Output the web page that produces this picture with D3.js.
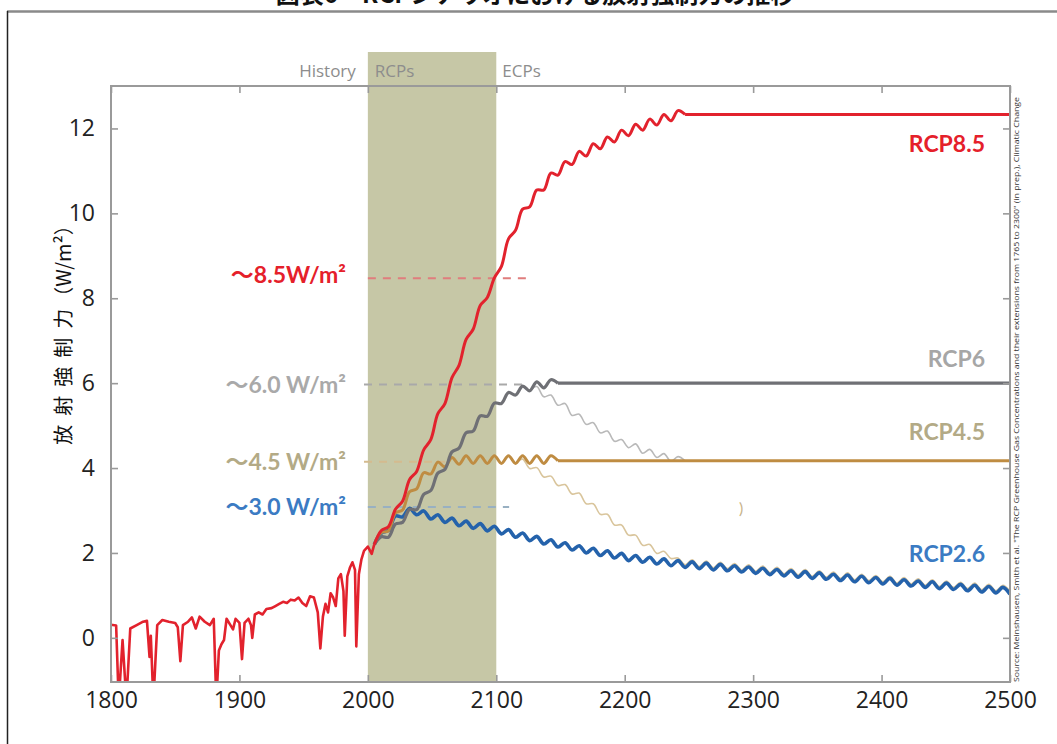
<!DOCTYPE html>
<html>
<head>
<meta charset="utf-8">
<script src="https://cdn.jsdelivr.net/npm/d3@7"></script>
<style>
  body { margin: 0; background: #fff; }
  svg { display: block; }
</style>
</head>
<body>
<div id="chart"></div>
<script>
// ---- data ----
const histYears = [1800, 1804, 1806, 1809, 1812, 1815, 1820, 1825, 1828, 1830, 1831, 1833, 1836, 1840, 1845, 1850,
  1852, 1854, 1856, 1860, 1863, 1866, 1869, 1873, 1877, 1880, 1882, 1884, 1886, 1888, 1890, 1893, 1895, 1897,
  1900, 1902, 1904, 1907, 1909, 1910, 1912, 1915, 1918, 1921, 1925, 1928, 1931, 1934, 1937, 1940, 1943, 1946,
  1949, 1952, 1955, 1958, 1961, 1963, 1965, 1967, 1969, 1971, 1973, 1975, 1977, 1979, 1981, 1982, 1984, 1986,
  1988, 1990, 1991, 1993, 1995, 1997, 2000, 2003, 2005];
const histValues = [0.31, 0.29, -1.5, -0.05, -1.5, 0.22, 0.3, 0.38, 0.4, -0.45, 0.05, -1.5, 0.3, 0.42, 0.38, 0.35,
  0.25, -0.55, 0.3, 0.38, 0.48, 0.22, 0.5, 0.38, 0.3, 0.45, -1.5, -0.3, -0.15, -0.05, 0.45, 0.3, 0.2, 0.45,
  0.35, -0.5, 0.35, 0.45, 0.3, 0.0, 0.55, 0.6, 0.55, 0.68, 0.7, 0.75, 0.8, 0.85, 0.82, 0.9, 0.88, 0.95,
  0.82, 0.75, 0.98, 0.95, 0.6, -0.25, 0.5, 0.8, 0.6, 1.05, 0.95, 0.75, 1.4, 1.5, 1.1, 0.05, 1.45, 1.65,
  1.78, 1.6, -0.2, 1.5, 1.85, 2.05, 2.15, 1.98, 2.2];

// scenario series are sampled every half solar cycle (peak / trough)
const halfCycle = 5.5;
const rcpStart = 2005;
const rcp85Values = [2.20, 2.53, 2.62, 3.03, 3.22, 3.73, 3.92, 4.43, 4.67, 5.28, 5.52, 6.13, 6.42, 7.03, 7.27,
  7.83, 8.02, 8.48, 8.75, 9.40, 9.60, 10.10, 10.15, 10.55, 10.55, 10.95, 10.90, 11.22, 11.15, 11.46, 11.35,
  11.64, 11.52, 11.80, 11.68, 11.96, 11.83, 12.10, 11.96, 12.22, 12.08, 12.33, 12.18, 12.42, 12.33];
const rcp6Values = [2.20, 2.38, 2.37, 2.68, 2.72, 3.03, 3.02, 3.38, 3.47, 3.88, 3.97, 4.38, 4.47, 4.83, 4.87,
  5.23, 5.22, 5.53, 5.52, 5.78, 5.72, 5.93, 5.82, 6.03, 5.89, 6.08, 6.00];
const rcp45Values = [2.20, 2.48, 2.52, 2.94, 3.01, 3.44, 3.51, 3.89, 3.86, 4.14, 4.03, 4.25, 4.09, 4.29, 4.11,
  4.29, 4.11, 4.29, 4.11, 4.29, 4.11, 4.29, 4.11, 4.29, 4.11, 4.29, 4.17];
const rcp26Values = [2.20, 2.47, 2.53, 2.87, 2.85, 3.05, 2.90, 2.99, 2.80, 2.90, 2.72, 2.82, 2.64, 2.75, 2.58,
  2.69, 2.52, 2.63, 2.45, 2.55, 2.37, 2.47, 2.29, 2.39, 2.21, 2.31, 2.14, 2.24, 2.07, 2.17, 2.00, 2.11, 1.94,
  2.05, 1.88, 1.99, 1.82, 1.94, 1.78, 1.90, 1.74, 1.86, 1.70, 1.82, 1.66, 1.79, 1.63, 1.76, 1.60, 1.73, 1.58,
  1.70, 1.55, 1.67, 1.52, 1.64, 1.49, 1.61, 1.46, 1.58, 1.43, 1.56, 1.40, 1.53, 1.38, 1.50, 1.35, 1.48, 1.32,
  1.45, 1.30, 1.42, 1.27, 1.40, 1.24, 1.37, 1.22, 1.34, 1.19, 1.32, 1.16, 1.29, 1.14, 1.26, 1.11, 1.24, 1.08,
  1.21, 1.06, 1.19, 1.03];
// plateau (ECP stabilisation) levels, held to 2500
const plateauEnd = 2500;
const rcp85Plateau = 12.33;
const rcp6Plateau = 6.0;
const rcp45Plateau = 4.17;

// thin ECP branches that decline after 2100
const ecp6Start = 2126;
const ecp6Values = [5.82, 5.92, 5.68, 5.72, 5.48, 5.52, 5.24, 5.27, 5.03, 5.07, 4.83, 4.87, 4.63, 4.67, 4.48,
  4.57, 4.35, 4.44, 4.25, 4.34, 4.16, 4.27, 4.17];
const ecp45Start = 2115;
const ecp45Values = [4.11, 4.21, 3.99, 4.01, 3.79, 3.81, 3.59, 3.61, 3.39, 3.41, 3.16, 3.16, 2.91, 2.91, 2.66,
  2.66, 2.42, 2.42, 2.18, 2.20, 1.99, 2.04, 1.87, 1.88, 1.72, 1.84, 1.68, 1.81, 1.65, 1.78, 1.63, 1.75, 1.60,
  1.72, 1.57, 1.69, 1.54, 1.66, 1.51, 1.63, 1.48, 1.61, 1.45, 1.58, 1.43, 1.55, 1.40, 1.53, 1.37, 1.50, 1.35,
  1.47, 1.32, 1.45, 1.29, 1.42, 1.27, 1.39, 1.24, 1.37, 1.21, 1.34, 1.19, 1.31, 1.16, 1.29, 1.13, 1.26, 1.11,
  1.24, 1.10];

// reference levels (dashed) and their year span
const refLabels = ['～8.5W/m²', '～6.0 W/m²', '～4.5 W/m²', '～3.0 W/m²'];
const refLevels = [8.47, 5.97, 4.15, 3.08];
const refFrom = [2000, 1997, 1997, 2000];
const refTo = [2125, 2120, 2060, 2110];

const scenarioNames = ['RCP8.5', 'RCP6', 'RCP4.5', 'RCP2.6'];
const xTicks = [1800, 1900, 2000, 2100, 2200, 2300, 2400, 2500];
const yTicks = [0, 2, 4, 6, 8, 10, 12];
const periods = ['History', 'RCPs', 'ECPs'];

// ---- drawing ----
const width = 1057, height = 744;
const svg = d3.select('#chart').append('svg')
  .attr('width', width)
  .attr('height', height);

const x = d3.scaleLinear().domain([1800, 2500]).range([111, 1010]);
const y = d3.scaleLinear().domain([-1.04, 13]).range([682, 86]);

const sansFont = "'Open Sans', 'Noto Sans', sans-serif";
const labelFont = "Lato, 'Noto Sans CJK JP', sans-serif";

// outer frame of the page image
svg.append('line')
  .attr('x1', 7).attr('x2', width).attr('y1', 11.5).attr('y2', 11.5)
  .attr('stroke', '#8a8a8a').attr('stroke-width', 2.5);
svg.append('line')
  .attr('x1', 7.5).attr('x2', 7.5).attr('y1', 11).attr('y2', height)
  .attr('stroke', '#222').attr('stroke-width', 1.5);

// title, cut off by the top edge as in the source page
svg.append('text')
  .attr('x', 535).attr('y', 3)
  .attr('text-anchor', 'middle')
  .attr('font-family', "'Noto Sans CJK JP', sans-serif")
  .attr('font-weight', 'bold')
  .attr('font-size', 24)
  .attr('fill', '#111')
  .text('図表6　RCPシナリオにおける放射強制力の推移');

// RCP period band
svg.append('rect')
  .attr('x', x(2000)).attr('width', x(2100) - x(2000))
  .attr('y', 52).attr('height', y.range()[0] - 52)
  .attr('fill', '#c6c7a6');

// period labels
const periodX = [x(2000) - 12, x(2000) + 7, x(2100) + 6];
svg.append('g').selectAll('text')
  .data(periods)
  .enter().append('text')
  .attr('x', (d, i) => periodX[i])
  .attr('y', 77)
  .attr('text-anchor', (d, i) => i === 0 ? 'end' : 'start')
  .attr('font-family', sansFont)
  .attr('font-size', 17)
  .attr('fill', '#8d8d8d')
  .text(d => d);

// dashed reference levels
const refColors = ['#e07d7d', '#a9a9a9', '#d4bb8f', '#98b0c2'];
svg.append('g').selectAll('line')
  .data(refLevels)
  .enter().append('line')
  .attr('x1', (d, i) => x(refFrom[i]))
  .attr('x2', (d, i) => x(refTo[i]))
  .attr('y1', d => y(d))
  .attr('y2', d => y(d))
  .attr('stroke', (d, i) => refColors[i])
  .attr('stroke-width', 2)
  .attr('stroke-dasharray', '8,7');

// clip lines to plot area
svg.append('clipPath').attr('id', 'plot-clip')
  .append('rect')
  .attr('x', x(1800)).attr('y', y(13))
  .attr('width', x(2500) - x(1800)).attr('height', y(-1.04) - y(13));

const plot = svg.append('g').attr('clip-path', 'url(#plot-clip)');

const toPoints = (start, values) => values.map((v, i) => [start + i * halfCycle, v]);

const wave = d3.line()
  .x(d => x(d[0]))
  .y(d => y(d[1]))
  .curve(d3.curveCatmullRom.alpha(0.5));

const straight = d3.line()
  .x(d => x(d[0]))
  .y(d => y(d[1]));

function drawSeries(points, color, widthPx, line) {
  plot.append('path')
    .datum(points)
    .attr('fill', 'none')
    .attr('stroke', color)
    .attr('stroke-width', widthPx)
    .attr('stroke-linejoin', 'round')
    .attr('d', line || wave);
}

// wiggly pathway, then a straight plateau to 2500
function drawWithPlateau(points, level, color, widthPx) {
  drawSeries(points, color, widthPx);
  const last = points[points.length - 1];
  drawSeries([last, [last[0] + 1, level], [plateauEnd, level]], color, widthPx, straight);
}

// thin declining ECP branches (underneath)
drawSeries(toPoints(ecp45Start, ecp45Values), '#d9c59c', 1.6);
drawSeries(toPoints(ecp6Start, ecp6Values), '#b9b9b9', 1.6);

// scenario pathways
drawSeries(toPoints(rcpStart, rcp26Values), '#2462ab', 3.6);
drawWithPlateau(toPoints(rcpStart, rcp45Values), rcp45Plateau, '#bf8c42', 3);
drawWithPlateau(toPoints(rcpStart, rcp6Values), rcp6Plateau, '#6f7075', 3.2);

// history (spiky, straight segments)
drawSeries(histYears.map((d, i) => [d, histValues[i]]), '#e2222d', 2.6, straight);
drawWithPlateau(toPoints(rcpStart, rcp85Values), rcp85Plateau, '#e2222d', 3);

// stray glyph left from a masked label
svg.append('text')
  .attr('x', 739).attr('y', 514)
  .attr('font-family', labelFont)
  .attr('font-size', 16)
  .attr('fill', '#c8b48a')
  .text(')');

// axes: ticks point inward on all four sides
const axisColor = '#9a9a9a';
function styleAxis(g) {
  g.select('.domain').remove();
  g.selectAll('.tick line').attr('stroke', axisColor).attr('stroke-width', 1.6);
  g.selectAll('.tick text')
    .attr('font-family', sansFont)
    .attr('font-size', 23)
    .attr('fill', '#222');
}

svg.append('g')
  .attr('transform', `translate(${x(1800)},0)`)
  .call(d3.axisLeft(y).tickValues(yTicks).tickSizeInner(-7).tickSizeOuter(0).tickPadding(16).tickFormat(d3.format('d')))
  .call(styleAxis);

svg.append('g')
  .attr('transform', `translate(${x(2500)},0)`)
  .call(d3.axisRight(y).tickValues(yTicks).tickSizeInner(-7).tickSizeOuter(0).tickFormat(''))
  .call(styleAxis);

svg.append('g')
  .attr('transform', `translate(0,${y(-1.04)})`)
  .call(d3.axisBottom(x).tickValues(xTicks).tickSizeInner(-7).tickSizeOuter(0).tickPadding(10).tickFormat(d3.format('d')))
  .call(styleAxis);

svg.append('g')
  .attr('transform', `translate(0,${y(13)})`)
  .call(d3.axisTop(x).tickValues(xTicks).tickSizeInner(-7).tickSizeOuter(0).tickFormat(''))
  .call(styleAxis);

// plot frame
svg.append('rect')
  .attr('x', x(1800)).attr('y', y(13))
  .attr('width', x(2500) - x(1800)).attr('height', y(-1.04) - y(13))
  .attr('fill', 'none')
  .attr('stroke', axisColor)
  .attr('stroke-width', 2);

// y axis title, rotated
const yTitle = svg.append('text')
  .attr('transform', 'translate(71,330) rotate(-90)')
  .attr('text-anchor', 'middle')
  .attr('font-family', "'Noto Sans CJK JP', sans-serif")
  .attr('font-size', 20)
  .attr('fill', '#111');
['放', '射', '強', '制', '力'].forEach((c, i) => {
  yTitle.append('tspan').attr('dx', i === 0 ? 0 : 9).text(c);
});
yTitle.append('tspan').attr('dx', 2).text('（W/m²）');

// level labels at left
const refTextColors = ['#e5202a', '#a9a9a9', '#b3aa86', '#3b7bc3'];
const refTextY = [283, 393, 470, 515];
svg.append('g').selectAll('text')
  .data(refLabels)
  .enter().append('text')
  .attr('x', 346)
  .attr('y', (d, i) => refTextY[i])
  .attr('text-anchor', 'end')
  .attr('font-family', labelFont)
  .attr('font-weight', 'bold')
  .attr('font-size', 23)
  .attr('fill', (d, i) => refTextColors[i])
  .text(d => d);

// scenario labels at right
const nameColors = ['#e5202a', '#a6a6a6', '#b3aa86', '#3b7bc3'];
const nameY = [152, 367, 440, 562];
svg.append('g').selectAll('text')
  .data(scenarioNames)
  .enter().append('text')
  .attr('x', 985)
  .attr('y', (d, i) => nameY[i])
  .attr('text-anchor', 'end')
  .attr('font-family', labelFont)
  .attr('font-weight', 'bold')
  .attr('font-size', 23)
  .attr('fill', (d, i) => nameColors[i])
  .text(d => d);

// source note along the right edge
svg.append('text')
  .attr('transform', 'translate(1019,682) rotate(-90)')
  .attr('font-family', sansFont)
  .attr('font-size', 6.5)
  .attr('fill', '#333')
  .attr('textLength', 585)
  .attr('lengthAdjust', 'spacingAndGlyphs')
  .text('Source: Meinshausen, Smith et al. "The RCP Greenhouse Gas Concentrations and their extensions from 1765 to 2300" (in prep.), Climatic Change');
</script>
</body>
</html>
